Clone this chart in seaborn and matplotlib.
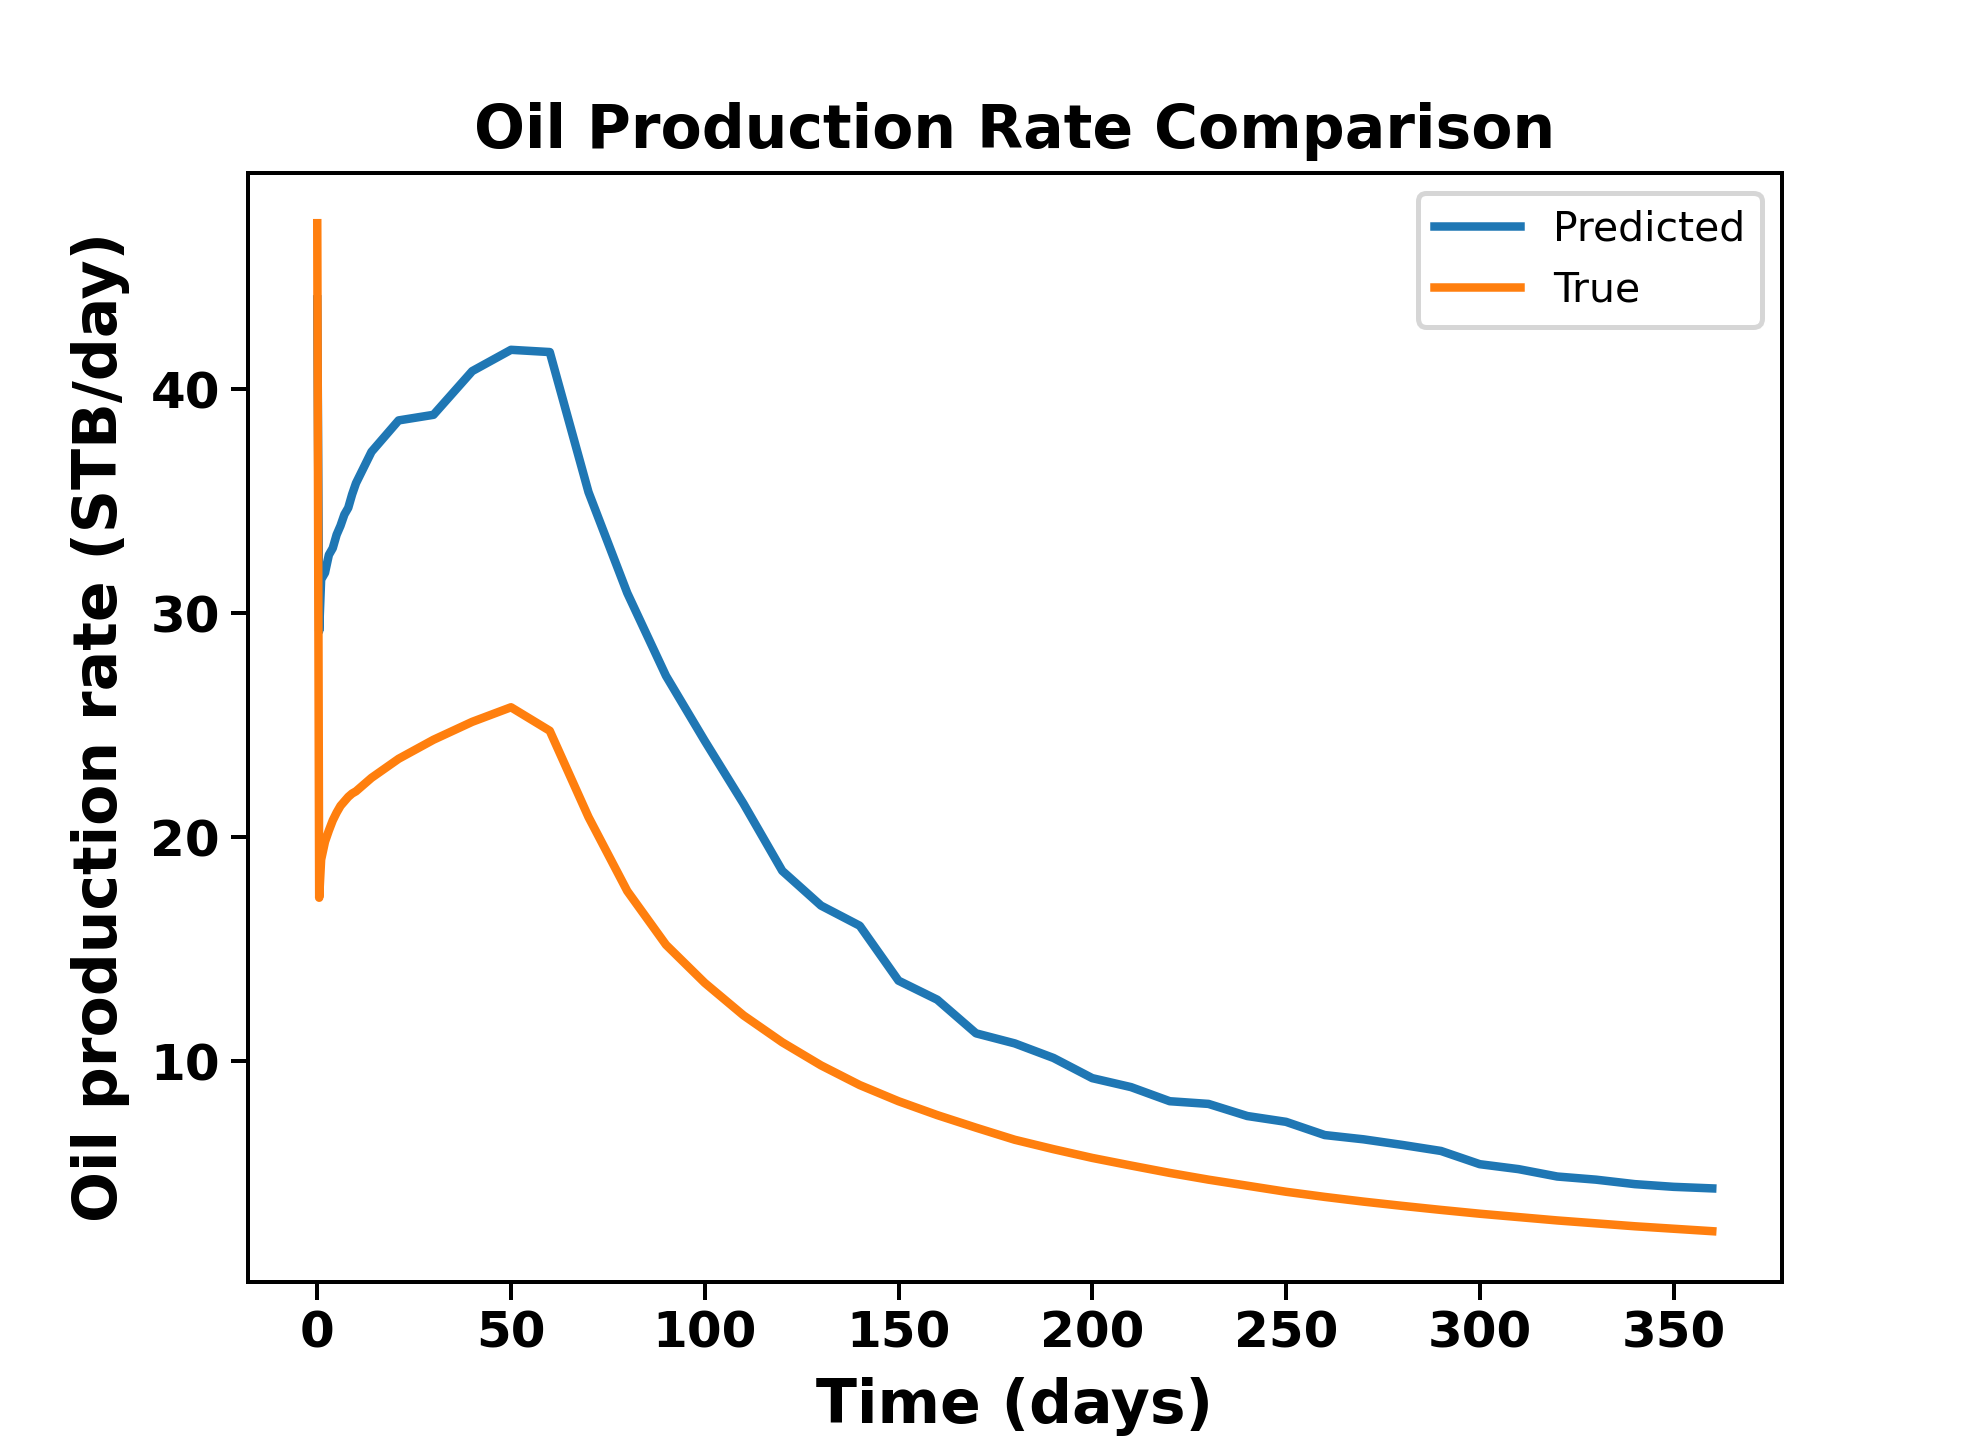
import matplotlib
matplotlib.use("Agg")
import matplotlib.pyplot as plt
import seaborn as sns
import pandas as pd

# ---- data ----
time_days = [0, 0.5, 1, 2, 3, 4, 5, 6, 7, 8, 9, 10, 14, 21, 30,
             40, 50, 60, 70, 80, 90, 100, 110, 120, 130, 140, 150, 160, 170, 180,
             190, 200, 210, 220, 230, 240, 250, 260, 270, 280, 290, 300, 310, 320,
             330, 340, 350, 360]

predicted_rate = [44.0, 29.2, 31.5, 31.8, 32.6, 32.9, 33.5, 33.9, 34.4, 34.7, 35.3, 35.8,
                  37.2, 38.6, 38.85,
                  40.8, 41.75, 41.65, 35.4, 30.9, 27.2, 24.3, 21.5, 18.5, 16.95, 16.05,
                  13.6, 12.75, 11.25, 10.8, 10.15, 9.25, 8.85, 8.22, 8.1, 7.56, 7.3,
                  6.71, 6.52, 6.27, 6.0, 5.41, 5.19, 4.86, 4.72, 4.52, 4.40, 4.33]

true_rate = [47.4, 17.3, 19.0, 19.8, 20.3, 20.75, 21.1, 21.4, 21.6, 21.8, 21.95, 22.05,
             22.65, 23.5, 24.35,
             25.15, 25.8, 24.75, 20.9, 17.6, 15.2, 13.5, 12.05, 10.85, 9.82, 8.94,
             8.22, 7.6, 7.04, 6.5, 6.08, 5.69, 5.35, 5.02, 4.72, 4.45, 4.18,
             3.95, 3.74, 3.55, 3.37, 3.2, 3.05, 2.9, 2.77, 2.64, 2.53, 2.42]

series_names = ["Predicted", "True"]

df_pred = pd.DataFrame({"time": time_days, "rate": predicted_rate})
df_true = pd.DataFrame({"time": time_days, "rate": true_rate})

plt.rcParams["font.family"] = ["DejaVu Sans"]

fig, ax = plt.subplots(figsize=(5.5, 4), dpi=360)

colors = sns.color_palette("tab10", 2)
sns.lineplot(data=df_pred, x="time", y="rate", ax=ax, color=colors[0],
             label=series_names[0], linewidth=1.7, sort=False)
sns.lineplot(data=df_true, x="time", y="rate", ax=ax, color=colors[1],
             label=series_names[1], linewidth=1.7, sort=False)

ax.set_title("Oil Production Rate Comparison", fontsize=12, fontweight="bold", pad=5)
ax.set_xlabel("Time (days)", fontsize=12, fontweight="bold")
ax.set_ylabel("Oil production rate (STB/day)", fontsize=12, fontweight="bold")

ax.set_xticks([0, 50, 100, 150, 200, 250, 300, 350])
ax.set_yticks([10, 20, 30, 40])
ax.tick_params(axis="both", which="major", pad=2.0)
for lbl in ax.get_xticklabels() + ax.get_yticklabels():
    lbl.set_fontweight("bold")
    lbl.set_fontsize(10)

ax.legend(loc="upper right", fontsize=8.2, handlelength=2.1)

fig.savefig("out.png", dpi=360)
